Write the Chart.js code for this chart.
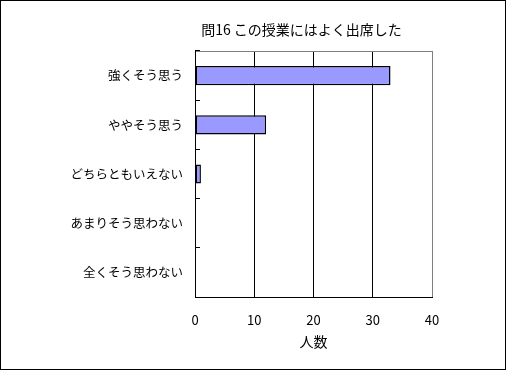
<!DOCTYPE html>
<html><head><meta charset="utf-8">
<script src="https://cdn.jsdelivr.net/npm/chart.js@4/dist/chart.umd.min.js"></script>
<style>
html,body{margin:0;padding:0;background:#fff;}
#wrap{position:relative;width:507px;height:371px;}
#frame{position:absolute;left:0;top:0;width:504px;height:368px;border:1px solid #000;pointer-events:none;}
</style></head>
<body>
<div id="wrap"><canvas id="c" width="507" height="371"></canvas><div id="frame"></div></div>
<script>
const titleText = "問16 この授業にはよく出席した";
const categories = ["強くそう思う", "ややそう思う", "どちらともいえない", "あまりそう思わない", "全くそう思わない"];
const counts = [33, 12, 1, 0, 0];
const xTicks = [0, 10, 20, 30, 40];
const xTitle = "人数";
const FONT = "'Noto Sans CJK JP', 'Noto Sans', sans-serif";

const titlePlugin = {
  id: 'fixedTitle',
  afterDraw(chart) {
    const ctx = chart.ctx, a = chart.chartArea;
    ctx.save();
    ctx.font = "14px " + FONT;
    ctx.fillStyle = "#000";
    ctx.textAlign = "center";
    ctx.textBaseline = "middle";
    ctx.fillText(titleText, (a.left + a.right) / 2 - 12, a.top - 21);
    ctx.restore();
  }
};

new Chart(document.getElementById('c'), {
  type: 'bar',
  data: {
    labels: categories,
    datasets: [{
      data: counts,
      backgroundColor: '#9999FF',
      borderColor: '#000000',
      borderWidth: 1.5,
      borderSkipped: false,
      barPercentage: 0.39,
      categoryPercentage: 1.0
    }]
  },
  options: {
    indexAxis: 'y',
    responsive: false,
    animation: false,
    devicePixelRatio: 1,
    layout: { padding: { top: 51, right: 75, left: 0, bottom: 0 } },
    plugins: { legend: { display: false }, title: { display: false }, tooltip: { enabled: false } },
    scales: {
      x: {
        position: 'bottom',
        min: xTicks[0], max: xTicks[xTicks.length - 1],
        afterBuildTicks(s) { s.ticks = xTicks.map(v => ({ value: v })); },
        afterFit(s) { s.height = 74; },
        grid: {
          color: (c) => (c.tick && c.tick.value === 40) ? '#808080' : '#000000',
          lineWidth: 1,
          drawTicks: false
        },
        border: { color: '#000000', width: 1 },
        ticks: { color: '#000', font: { family: FONT, size: 13 }, padding: 15 },
        title: { display: true, text: xTitle, color: '#000', font: { family: FONT, size: 14 }, padding: { top: 0, bottom: 21 } }
      },
      x2: {
        position: 'top',
        min: 0, max: 40,
        afterFit(s) { s.height = 0; },
        grid: { drawOnChartArea: false, drawTicks: false },
        border: { color: '#808080', width: 1 },
        ticks: { display: false }
      },
      y: {
        afterFit(s) { s.width = 195; },
        grid: { drawOnChartArea: false, color: '#000000', tickLength: -5, offset: true },
        border: { color: '#000000', width: 1 },
        ticks: { color: '#000', font: { family: FONT, size: 12.5 }, padding: 17 }
      }
    }
  },
  plugins: [titlePlugin]
});
</script>
</body></html>
